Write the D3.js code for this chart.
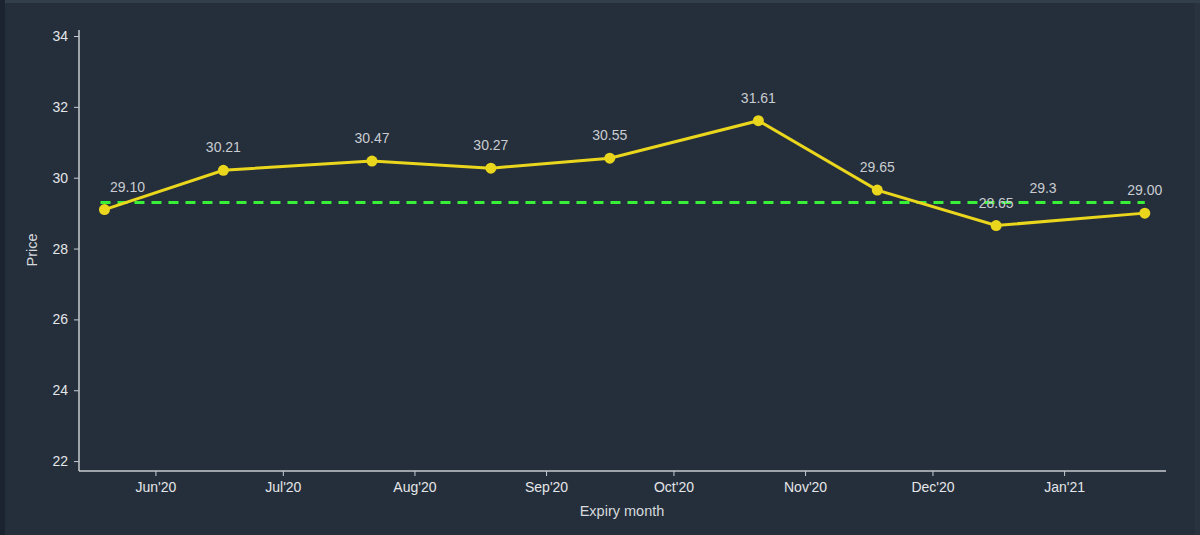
<!DOCTYPE html>
<html>
<head>
<meta charset="utf-8">
<script src="https://cdn.jsdelivr.net/npm/d3@7"></script>
<style>
  html, body { margin: 0; padding: 0; background: #252f3b; overflow: hidden; }
  svg { display: block; }
</style>
</head>
<body>
<svg id="chart"></svg>
<script>
// expiry dates and settlement prices
const expiryDates = ['2020-05-20', '2020-06-17', '2020-07-22', '2020-08-19', '2020-09-16',
  '2020-10-21', '2020-11-18', '2020-12-16', '2021-01-20']
const prices = [29.10, 30.21, 30.47, 30.27, 30.55, 31.61, 29.65, 28.65, 29.00]
const averagePrice = 29.3
const yTicks = [22, 24, 26, 28, 30, 32, 34]
const monthTicks = ['2020-06-01', '2020-07-01', '2020-08-01', '2020-09-01', '2020-10-01',
  '2020-11-01', '2020-12-01', '2021-01-01']

const width = 1200
const height = 535
const parse = d3.utcParse('%Y-%m-%d')

const data = expiryDates.map((d, i) => ({ date: parse(d), price: prices[i] }))

const svg = d3.select('#chart')
  .attr('width', width)
  .attr('height', height)

// frame strips
svg.append('rect').attr('width', width).attr('height', height).attr('fill', '#252f3b')
svg.append('rect').attr('width', 5).attr('height', height).attr('fill', '#1b2230')
svg.append('rect').attr('x', 5).attr('width', width - 5).attr('height', 3).attr('fill', '#333e4b')
svg.append('rect').attr('x', 1195).attr('y', 3).attr('width', 5).attr('height', height).attr('fill', '#29333f')

const xScale = d3.scaleUtc()
  .domain([parse('2020-05-14'), parse('2021-01-25')])
  .range([79, 1166])

const yScale = d3.scaleLinear()
  .domain([21.72, 34.17])
  .range([471, 30])

const axisColor = '#c9cdd2'
const textColor = '#e4e6e9'
const font = 'Liberation Sans, Arial, sans-serif'

// Y axis
const yAxis = svg.append('g')
  .attr('transform', 'translate(79,0)')
  .call(d3.axisLeft(yScale).tickValues(yTicks).tickSize(5).tickPadding(6).tickFormat(d3.format('d')))
yAxis.select('.domain').attr('stroke', axisColor).attr('stroke-width', 1.5).attr('d', 'M0,471V30')
yAxis.selectAll('.tick line').attr('stroke', axisColor)
yAxis.selectAll('.tick text')
  .attr('fill', textColor)
  .style('font-family', font)
  .style('font-size', '14px')

// X axis
const xAxis = svg.append('g')
  .attr('transform', 'translate(0,471)')
  .call(d3.axisBottom(xScale)
    .tickValues(monthTicks.map(parse))
    .tickSize(5)
    .tickPadding(6)
    .tickFormat(d3.utcFormat("%b'%y")))
xAxis.select('.domain').attr('stroke', axisColor).attr('stroke-width', 1.5).attr('d', 'M79,0H1166')
xAxis.selectAll('.tick line').attr('stroke', axisColor)
xAxis.selectAll('.tick text')
  .attr('fill', textColor)
  .style('font-family', font)
  .style('font-size', '14px')

// axis titles
svg.append('text')
  .attr('x', 622)
  .attr('y', 516)
  .attr('text-anchor', 'middle')
  .attr('fill', '#d6d9dd')
  .style('font-family', font)
  .style('font-size', '14.5px')
  .text('Expiry month')

svg.append('text')
  .attr('transform', 'translate(37,250) rotate(-90)')
  .attr('text-anchor', 'middle')
  .attr('fill', '#d6d9dd')
  .style('font-family', font)
  .style('font-size', '14.5px')
  .text('Price')

// average line
svg.append('line')
  .attr('x1', xScale(data[0].date) - 4)
  .attr('x2', xScale(data[data.length - 1].date))
  .attr('y1', yScale(averagePrice))
  .attr('y2', yScale(averagePrice))
  .attr('stroke', '#38f038')
  .attr('stroke-width', 3)
  .attr('stroke-dasharray', '10,7')

svg.append('text')
  .attr('x', 1043)
  .attr('y', yScale(averagePrice) - 10)
  .attr('text-anchor', 'middle')
  .attr('fill', '#c9ccd1')
  .style('font-family', font)
  .style('font-size', '14px')
  .text(averagePrice)

// price line
const line = d3.line()
  .x(d => xScale(d.date))
  .y(d => yScale(d.price))

svg.append('path')
  .datum(data)
  .attr('d', line)
  .attr('fill', 'none')
  .attr('stroke', '#ead61c')
  .attr('stroke-width', 3)

svg.selectAll('circle.dot')
  .data(data)
  .join('circle')
  .attr('class', 'dot')
  .attr('cx', d => xScale(d.date))
  .attr('cy', d => yScale(d.price))
  .attr('r', 5.5)
  .attr('fill', '#ead61c')

svg.selectAll('text.val')
  .data(data)
  .join('text')
  .attr('class', 'val')
  .attr('x', (d, i) => xScale(d.date) + (i === 0 ? 23 : 0))
  .attr('y', d => yScale(d.price) - 18)
  .attr('text-anchor', 'middle')
  .attr('fill', '#c9ccd1')
  .style('font-family', font)
  .style('font-size', '14px')
  .text(d => d.price.toFixed(2))
</script>
</body>
</html>
